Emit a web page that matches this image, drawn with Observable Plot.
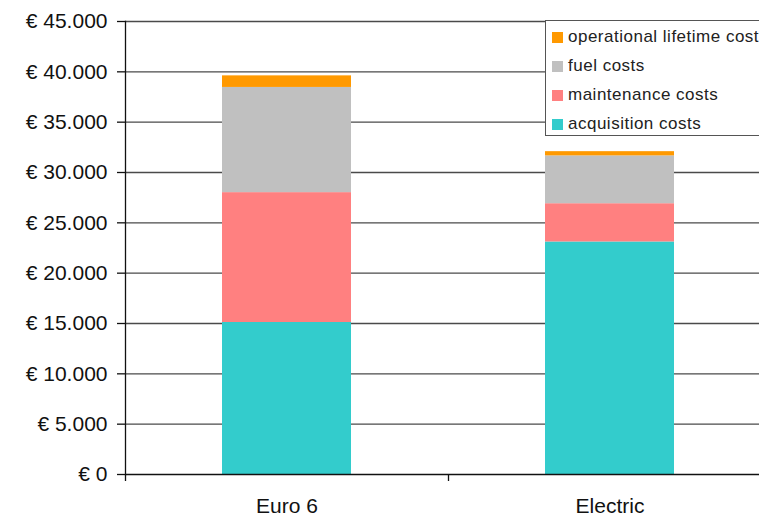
<!DOCTYPE html>
<html>
<head>
<meta charset="utf-8">
<script src="https://cdn.jsdelivr.net/npm/d3@7"></script>
<script src="https://cdn.jsdelivr.net/npm/@observablehq/plot@0.6"></script>
<style>
  html, body { margin: 0; padding: 0; background: #fff; }
  body { width: 759px; height: 517px; overflow: hidden; position: relative; font-family: "Liberation Sans", Arial, sans-serif; }
  #chart svg { display: block; max-width: none !important; height: 517px !important; }
  .legend { position: absolute; left: 545px; top: 20px; width: 240px; height: 116px; border: 1px solid #555; background: #fff; box-sizing: border-box; }
  .legend .item { position: absolute; left: 6px; height: 18px; display: flex; align-items: center; white-space: nowrap; font-size: 17px; letter-spacing: 0.5px; color: #222; }
  .legend .swatch { width: 11px; height: 11px; margin-right: 5px; flex: none; }
</style>
</head>
<body>
<div id="chart"></div>
<script>
// Lifetime cost of a vehicle, broken down into cost components
const categories = ["Euro 6", "Electric"];
const components = ["acquisition costs", "maintenance costs", "fuel costs", "operational lifetime cost"];
const acquisitionCosts = [15100, 23100];
const maintenanceCosts = [12900, 3800];
const fuelCosts = [10450, 4750];
const operationalCosts = [1150, 420];
const componentColors = ["#33CCCC", "#FF8080", "#C0C0C0", "#FF9900"];
const yTicks = [0, 5000, 10000, 15000, 20000, 25000, 30000, 35000, 40000, 45000];
const legendOrder = ["operational lifetime cost", "fuel costs", "maintenance costs", "acquisition costs"];

const series = [acquisitionCosts, maintenanceCosts, fuelCosts, operationalCosts];
const rows = [];
categories.forEach((category, i) => {
  components.forEach((component, j) => {
    rows.push({category, component, value: series[j][i]});
  });
});

const euro = d3.formatLocale({decimal: ",", thousands: ".", grouping: [3], currency: ["€ ", ""]});
const fmtEuro = euro.format("$,.0f");

const width = 790, marginLeft = 125, marginRight = 19;
const step = (width - marginLeft - marginRight) / categories.length;

const chart = Plot.plot({
  width,
  height: 517,
  marginLeft,
  marginRight,
  marginTop: 21,
  marginBottom: 43,
  style: {fontFamily: "'Liberation Sans', Arial, sans-serif", color: "#111", background: "transparent", maxWidth: "none"},
  x: {domain: categories, paddingInner: 0.6, paddingOuter: 0.3, axis: null, label: null},
  y: {domain: [0, 45000], axis: null, label: null},
  color: {domain: components, range: componentColors},
  marks: [
    Plot.ruleY(yTicks.slice(1), {stroke: "#4a4a4a", strokeWidth: 1.3}),
    Plot.barY(rows, {x: "category", y: "value", fill: "component", order: components}),
    Plot.ruleY([0], {stroke: "#111", strokeWidth: 1.3}),
    Plot.frame({anchor: "left", stroke: "#111", strokeWidth: 1.3}),
    Plot.axisY({ticks: yTicks, tickSize: 8, tickPadding: 10, tickFormat: fmtEuro, fontSize: 21, stroke: "#111", strokeWidth: 1.3, label: null}),
    Plot.ruleX(categories, {x: d => d, dx: -step / 2, y1: 0, y2: 0, insetTop: 0, insetBottom: -7, stroke: "#111", strokeWidth: 1.3}),
    Plot.axisX({tickSize: 0, tickPadding: 24, fontSize: 21, label: null})
  ]
});
document.getElementById("chart").appendChild(chart);

// Legend box in the upper right corner of the plot area
const legend = document.createElement("div");
legend.className = "legend";
legendOrder.forEach((name, i) => {
  const item = document.createElement("div");
  item.className = "item";
  item.style.top = (7 + i * 29) + "px";
  const sw = document.createElement("span");
  sw.className = "swatch";
  sw.style.background = componentColors[components.indexOf(name)];
  const label = document.createElement("span");
  label.textContent = name;
  item.appendChild(sw);
  item.appendChild(label);
  legend.appendChild(item);
});
document.body.appendChild(legend);
</script>
</body>
</html>
